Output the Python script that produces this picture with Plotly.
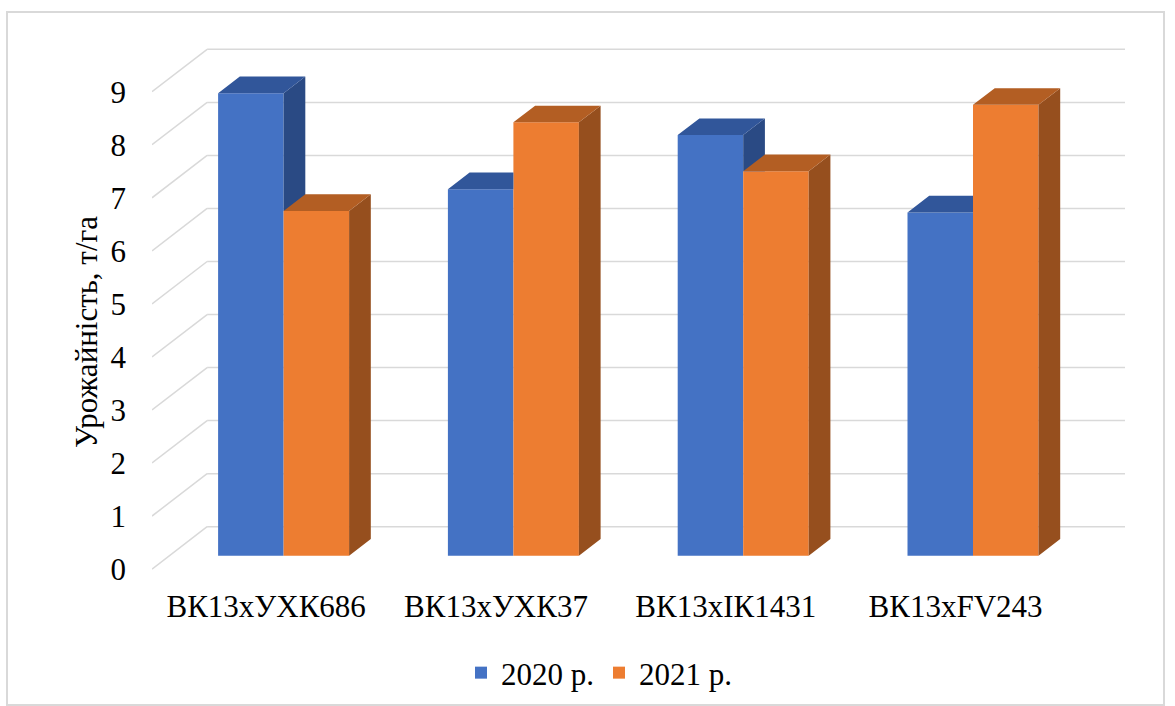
import plotly.graph_objects as go

# ---------------- data ----------------
categories = ["ВК13хУХК686", "ВК13хУХК37", "ВК13хІК1431", "ВК13хFV243"]
series_names = ["2020 р.", "2021 р."]
values_2020 = [8.72, 6.91, 7.93, 6.47]
values_2021 = [6.50, 8.17, 7.25, 8.50]
y_ticks = [0, 1, 2, 3, 4, 5, 6, 7, 8, 9]
y_title = "Урожайність, т/га"

# ---------------- styling / geometry (pixels) ----------------
FIG_W, FIG_H = 1175, 706
PLOT_L, PLOT_R, PLOT_T, PLOT_B = 152, 1125, 40, 576
FLOOR_FRONT_PX = 569.1   # y of the front floor edge (value 0 on the front)
PX_PER_CAT = 229.8
PX_PER_VAL = 53.04
CAT0_PX = 283.6          # x of first category centre on the bar front plane
ZERO_PX = 555.7          # y of value 0 on the bar front plane
FLOOR_DEPTH_PX = ZERO_PX - FLOOR_FRONT_PX
BAR_DEPTH_PX = 16.7      # depth of the bars
WALL_DEPTH_PX = 29.0     # back wall relative to bar front plane
SLANT = 1.3              # px to the right per px of depth (upwards)
BAR_W_PX = 65.5
FLOOR_LEFT_PX = 152

BLUE = "#4472C4"; BLUE_TOP = "#31569A"; BLUE_SIDE = "#2A4A84"
ORANGE = "#ED7D31"; ORANGE_TOP = "#B35E23"; ORANGE_SIDE = "#964F1E"
GRID = "#D9D9D9"
FONT = "Liberation Serif, Times New Roman, serif"
FS = 31

x_range = [(PLOT_L - CAT0_PX) / PX_PER_CAT, (PLOT_R - CAT0_PX) / PX_PER_CAT]
y_range = [(ZERO_PX - PLOT_B) / PX_PER_VAL, (ZERO_PX - PLOT_T) / PX_PER_VAL]
d_floor = FLOOR_DEPTH_PX / PX_PER_VAL
d_bar = BAR_DEPTH_PX / PX_PER_VAL
d_wall = WALL_DEPTH_PX / PX_PER_VAL


def xshift(d):
    return d * PX_PER_VAL * SLANT / PX_PER_CAT


bw = BAR_W_PX / PX_PER_CAT
sx = xshift(d_bar)
idx = list(range(len(categories)))


def clip(poly, inside, intersect):
    out = []
    n = len(poly)
    for i in range(n):
        cur, prev = poly[i], poly[i - 1]
        if inside(cur):
            if not inside(prev):
                out.append(intersect(prev, cur))
            out.append(cur)
        elif inside(prev):
            out.append(intersect(prev, cur))
    return out


def area(poly):
    a = 0
    for i in range(len(poly)):
        x1, y1 = poly[i - 1]
        x2, y2 = poly[i]
        a += x1 * y2 - x2 * y1
    return abs(a) / 2


def faces(xl, v):
    top = [(xl, v), (xl + bw, v), (xl + bw + sx, v + d_bar), (xl + sx, v + d_bar)]
    side = [(xl + bw, 0), (xl + bw, v), (xl + bw + sx, v + d_bar), (xl + bw + sx, d_bar)]
    return top, side


def add_poly(store, poly):
    if len(poly) >= 3 and area(poly) > 1e-9:
        for p in poly + [poly[0]]:
            store[0].append(p[0]); store[1].append(p[1])
        store[0].append(None); store[1].append(None)


blue_top, blue_side = ([], []), ([], [])
orange_top, orange_side = ([], []), ([], [])
for i, vb, vo in zip(idx, values_2020, values_2021):
    xl_b = i - bw
    xr_b = i
    t, s = faces(xl_b, vb)
    # visible parts of blue faces: left of orange front, or above orange front
    for poly, store in ((t, blue_top), (s, blue_side)):
        left = clip(poly, lambda p: p[0] <= xr_b + 1e-12,
                    lambda a, b: (xr_b, a[1] + (b[1] - a[1]) * (xr_b - a[0]) / (b[0] - a[0])))
        above = clip(poly, lambda p: p[1] >= vo - 1e-12,
                     lambda a, b: (a[0] + (b[0] - a[0]) * (vo - a[1]) / (b[1] - a[1]), vo))
        add_poly(store, left)
        add_poly(store, above)
    t, s = faces(i, vo)
    add_poly(orange_top, t)
    add_poly(orange_side, s)

fig = go.Figure()
fig.add_trace(go.Bar(x=idx, y=values_2020, width=bw, offset=-bw, name=series_names[0],
                     marker=dict(color=BLUE, line=dict(width=0)), hoverinfo="skip"))
fig.add_trace(go.Bar(x=idx, y=values_2021, width=bw, offset=0, name=series_names[1],
                     marker=dict(color=ORANGE, line=dict(width=0)), hoverinfo="skip"))
for store, col in ((blue_side, BLUE_SIDE), (blue_top, BLUE_TOP),
                   (orange_side, ORANGE_SIDE), (orange_top, ORANGE_TOP)):
    fig.add_trace(go.Scatter(x=store[0], y=store[1], mode="none", fill="toself",
                             fillcolor=col, showlegend=False, hoverinfo="skip"))

# back wall gridlines and floor diagonals
floor_left = (FLOOR_LEFT_PX - CAT0_PX) / PX_PER_CAT
wall_left = floor_left + xshift(d_wall - d_floor)
shapes = []
for k in y_ticks:
    shapes.append(dict(type="line", xref="x", yref="y", layer="below",
                       x0=wall_left, y0=k + d_wall, x1=x_range[1], y1=k + d_wall,
                       line=dict(color=GRID, width=1.5)))
    shapes.append(dict(type="line", xref="x", yref="y", layer="below",
                       x0=floor_left, y0=k + d_floor, x1=wall_left, y1=k + d_wall,
                       line=dict(color=GRID, width=1.5)))


def px_x(px):
    return (px - PLOT_L) / (PLOT_R - PLOT_L)


def px_y(py):
    return (PLOT_B - py) / (PLOT_B - PLOT_T)


shapes.append(dict(type="rect", xref="paper", yref="paper",
                   x0=px_x(7), y0=px_y(705), x1=px_x(1164), y1=px_y(12),
                   line=dict(color=GRID, width=2)))

fig.update_layout(
    width=FIG_W, height=FIG_H,
    margin=dict(l=PLOT_L, r=FIG_W - PLOT_R, t=PLOT_T, b=FIG_H - PLOT_B, autoexpand=False),
    paper_bgcolor="white", plot_bgcolor="white",
    font=dict(family=FONT, size=FS, color="black"),
    barmode="overlay",
    showlegend=True,
    legend=dict(orientation="h", x=px_x(599), xanchor="center", y=px_y(673), yanchor="middle",
                font=dict(family=FONT, size=FS, color="black"), bgcolor="rgba(0,0,0,0)"),
    xaxis=dict(range=x_range, showgrid=False, zeroline=False, showline=False, ticks="",
               tickvals=[i + xshift(d_floor) for i in idx], ticktext=categories,
               tickfont=dict(family=FONT, size=FS, color="black"), ticklabelstandoff=9,
               fixedrange=True),
    yaxis=dict(range=y_range, showgrid=False, zeroline=False, showline=False,
               showticklabels=False, ticks="", fixedrange=True),
    yaxis2=dict(overlaying="y", side="left", range=[y_range[0] - d_floor, y_range[1] - d_floor],
                tickvals=y_ticks, showgrid=False, zeroline=False, showline=False, ticks="",
                tickfont=dict(family=FONT, size=FS, color="black"), ticklabelstandoff=25,
                fixedrange=True),
    shapes=shapes,
    annotations=[dict(text=y_title, xref="paper", yref="paper", x=px_x(86), y=px_y(332),
                      xanchor="center", yanchor="middle", textangle=-90, showarrow=False,
                      font=dict(family=FONT, size=FS, color="black"))],
)
fig.add_trace(go.Scatter(x=[None], y=[None], yaxis="y2", showlegend=False, hoverinfo="skip"))

fig.write_html("out.html")
